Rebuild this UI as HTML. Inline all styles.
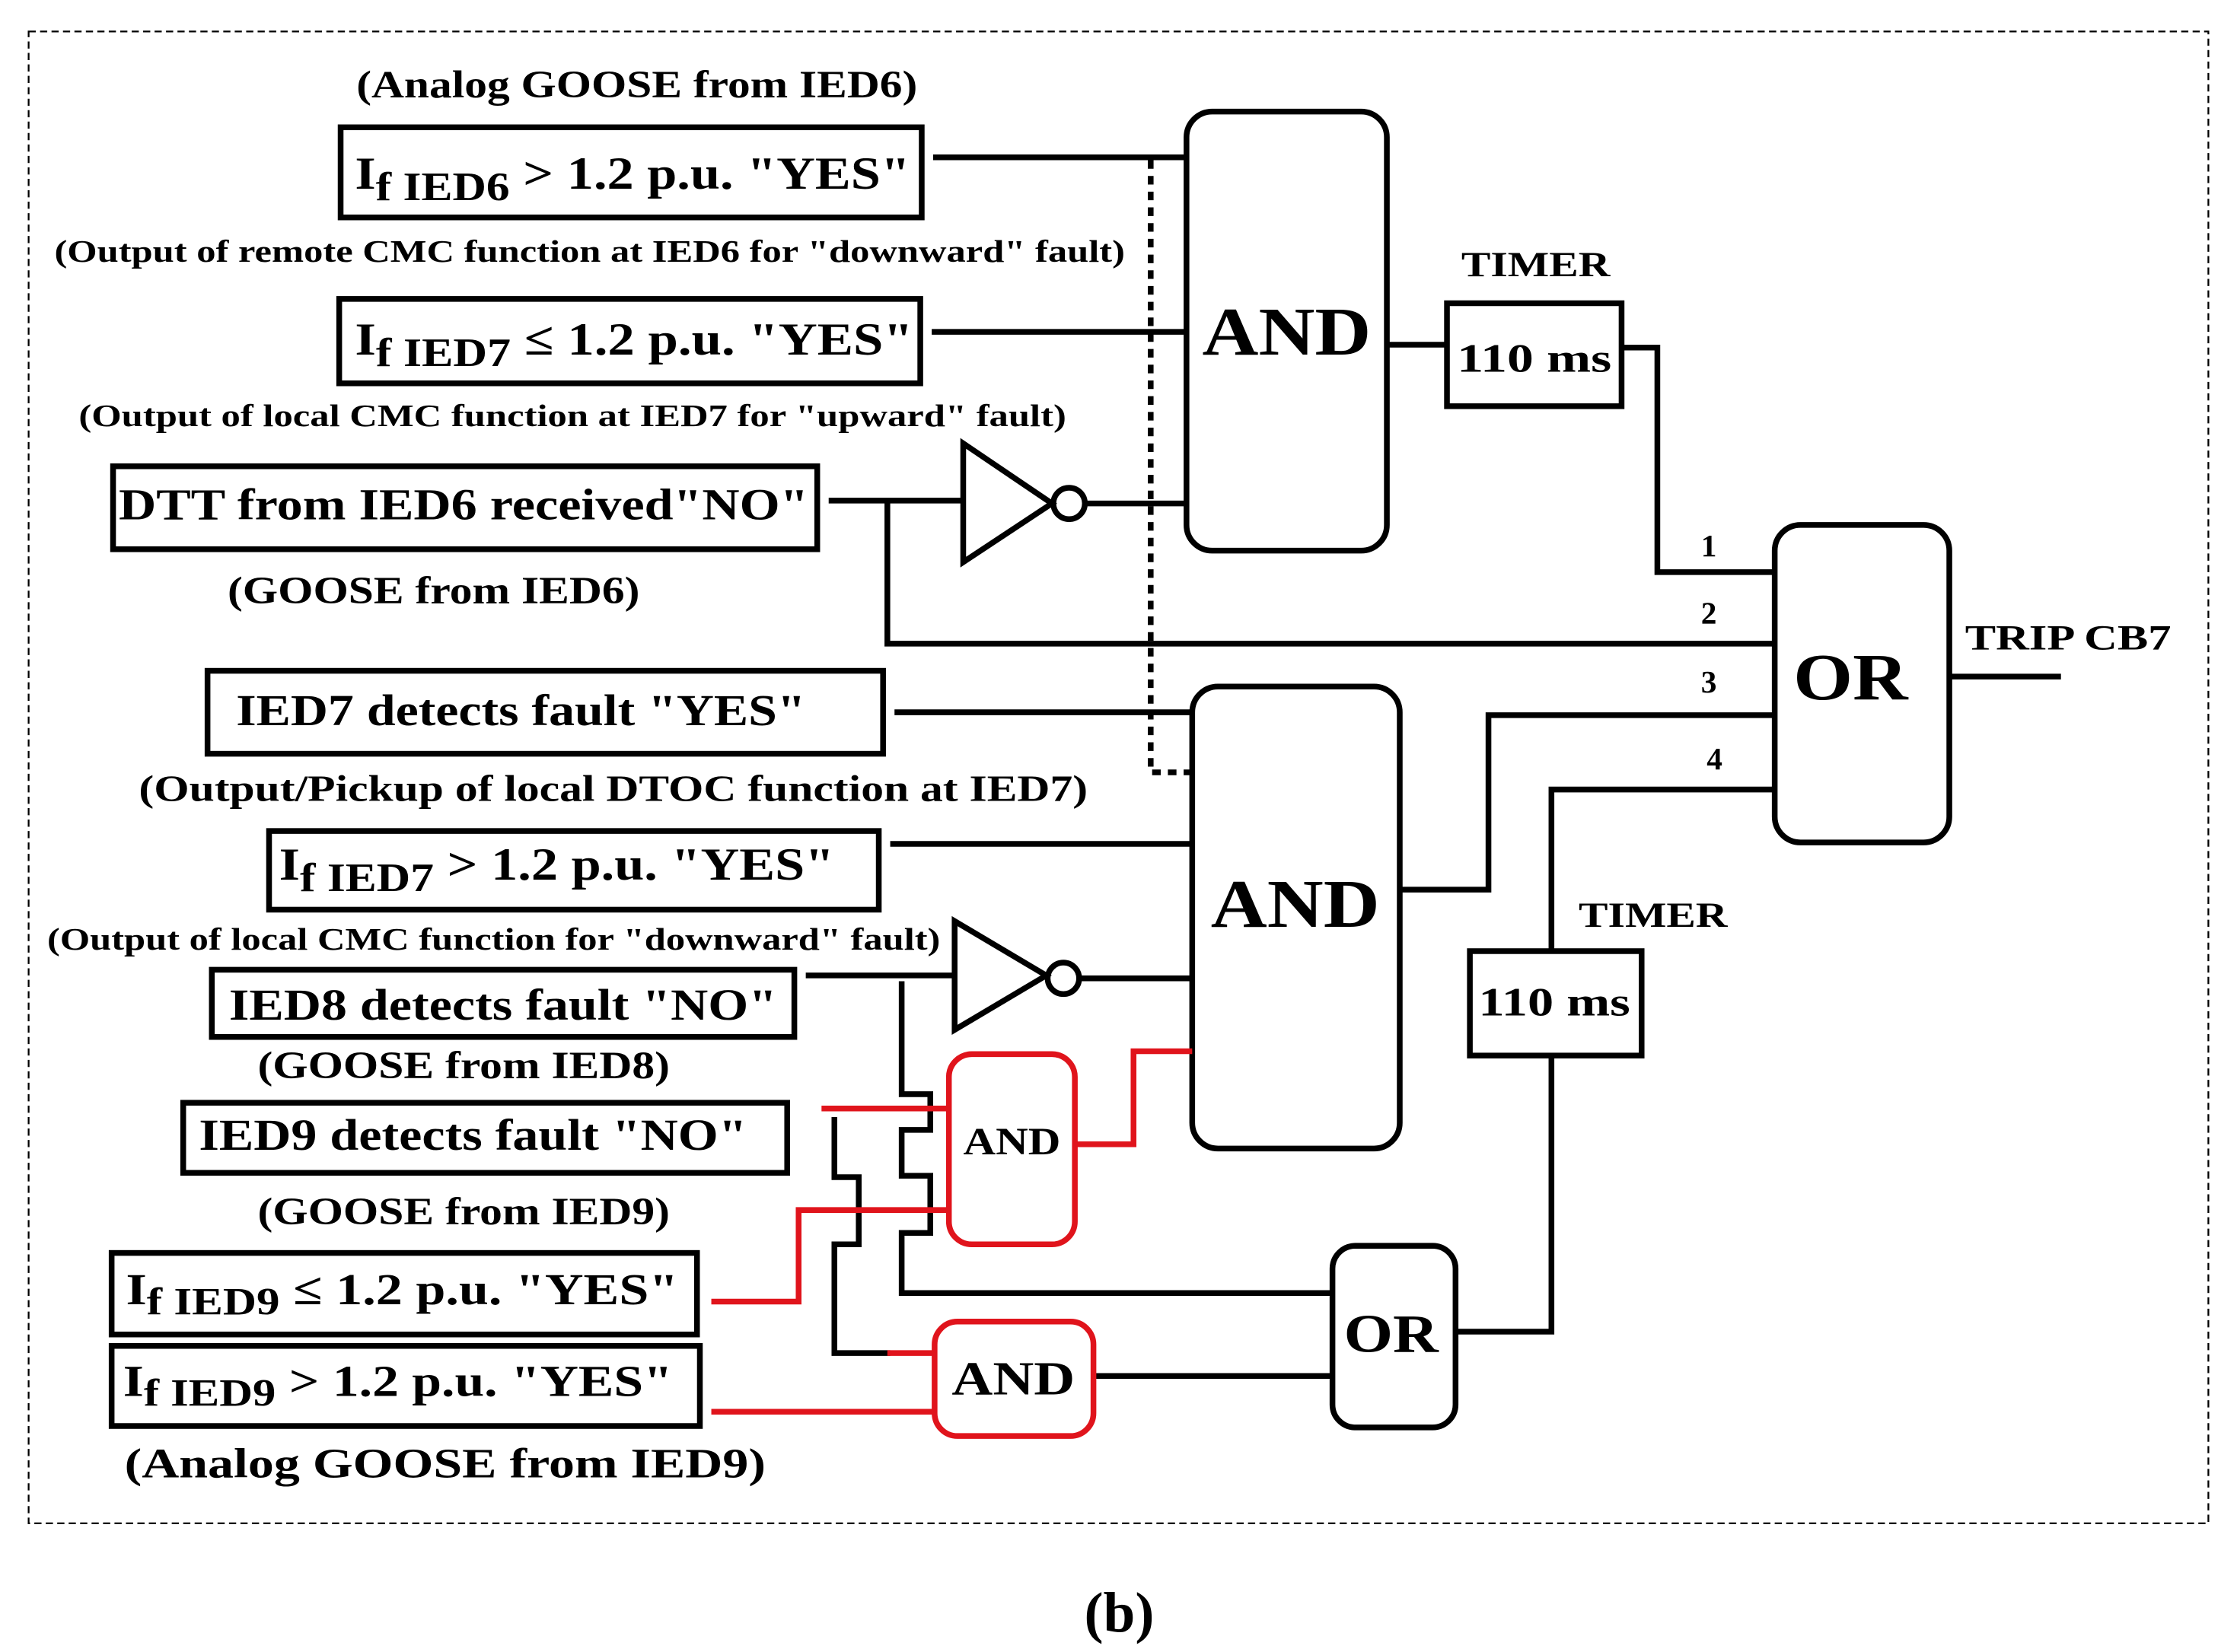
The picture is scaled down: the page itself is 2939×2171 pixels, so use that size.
<!DOCTYPE html>
<html><head><meta charset="utf-8"><style>
html,body{margin:0;padding:0;background:#fff;}
svg{display:block;}
text{font-family:"Liberation Serif",serif;font-weight:bold;fill:#000;}
</style></head><body>
<svg width="2939" height="2171" viewBox="0 0 1563 1155" preserveAspectRatio="none" xmlns="http://www.w3.org/2000/svg">
<rect x="20" y="22" width="1523" height="1043" fill="none" stroke="#000" stroke-width="1.2" stroke-dasharray="5,3"/>
<g fill="none" stroke="#000" stroke-width="4">
<rect x="238" y="89" width="406" height="63"/>
<rect x="237" y="209" width="406" height="59"/>
<rect x="79" y="326" width="492" height="58"/>
<rect x="145" y="469" width="472" height="58"/>
<rect x="188" y="581" width="426" height="55"/>
<rect x="148" y="678" width="407" height="47"/>
<rect x="128" y="771" width="422" height="49"/>
<rect x="78" y="876" width="409" height="57"/>
<rect x="78" y="941" width="411" height="56"/>
<rect x="829" y="78" width="140" height="307" rx="18"/>
<rect x="1011" y="212" width="122" height="72"/>
<rect x="1240" y="367" width="122" height="222" rx="18"/>
<rect x="833" y="480" width="145" height="323" rx="18"/>
<rect x="1027" y="665" width="120" height="73"/>
<rect x="931" y="871" width="86" height="127" rx="16"/>
<polygon points="673,310 673,393 735,352"/>
<circle cx="747" cy="352" r="11"/>
<polygon points="667,644 667,720 731,682"/>
<circle cx="743" cy="684" r="11"/>
<path d="M652 110H829 M651 232H829 M579 350H673 M758 352H829 M620 350V450H1240 M969 241H1011 M1133 243H1158V400H1240 M625 498H833 M622 590H833 M563 682H667 M754 684H833 M978 622H1040V500H1240 M1084 665V552H1240 M1084 738V931H1017 M1362 473H1440 M764 962H931"/>
<path d="M630 686V765H650V790H630V822H650V862H630V904H931"/>
<path d="M583 781V823H600V870H583V946H622"/>
<path d="M804 112V540H833" stroke-dasharray="6,5"/>
</g>
<g fill="none" stroke="#e0141c" stroke-width="4">
<rect x="663" y="737" width="88" height="133" rx="16"/>
<rect x="653" y="924" width="111" height="80" rx="16"/>
<path d="M574 775H663 M497 910H558V846H663 M751 800H792V735H833 M497 987H653 M620 946H653"/>
</g>
<text x="445" y="68" font-size="27" text-anchor="middle" textLength="392" lengthAdjust="spacingAndGlyphs">(Analog GOOSE from IED6)</text>
<text x="248" y="132" font-size="32" textLength="388" lengthAdjust="spacingAndGlyphs">I<tspan font-size="28" dy="8">f IED6</tspan><tspan dy="-8"> &gt; 1.2 p.u. "YES"</tspan></text>
<text x="38" y="183" font-size="22" textLength="748" lengthAdjust="spacingAndGlyphs">(Output of remote CMC function at IED6 for "downward" fault)</text>
<text x="248" y="248" font-size="32" textLength="390" lengthAdjust="spacingAndGlyphs">I<tspan font-size="28" dy="8">f IED7</tspan><tspan dy="-8"> ≤ 1.2 p.u. "YES"</tspan></text>
<text x="55" y="298" font-size="22" textLength="690" lengthAdjust="spacingAndGlyphs">(Output of local CMC function at IED7 for "upward" fault)</text>
<text x="83" y="363" font-size="31" textLength="482" lengthAdjust="spacingAndGlyphs">DTT from IED6 received"NO"</text>
<text x="303" y="422" font-size="27" text-anchor="middle" textLength="288" lengthAdjust="spacingAndGlyphs">(GOOSE from IED6)</text>
<text x="165" y="507" font-size="31" textLength="398" lengthAdjust="spacingAndGlyphs">IED7 detects fault "YES"</text>
<text x="97" y="560" font-size="26" textLength="663" lengthAdjust="spacingAndGlyphs">(Output/Pickup of local DTOC function at IED7)</text>
<text x="195" y="615" font-size="32" textLength="388" lengthAdjust="spacingAndGlyphs">I<tspan font-size="28" dy="8">f IED7</tspan><tspan dy="-8"> &gt; 1.2 p.u. "YES"</tspan></text>
<text x="33" y="664" font-size="22" textLength="624" lengthAdjust="spacingAndGlyphs">(Output of local CMC function for "downward" fault)</text>
<text x="160" y="713" font-size="31" textLength="383" lengthAdjust="spacingAndGlyphs">IED8 detects fault "NO"</text>
<text x="324" y="754" font-size="27" text-anchor="middle" textLength="288" lengthAdjust="spacingAndGlyphs">(GOOSE from IED8)</text>
<text x="139" y="804" font-size="31" textLength="383" lengthAdjust="spacingAndGlyphs">IED9 detects fault "NO"</text>
<text x="324" y="856" font-size="27" text-anchor="middle" textLength="288" lengthAdjust="spacingAndGlyphs">(GOOSE from IED9)</text>
<text x="88" y="912" font-size="31" textLength="386" lengthAdjust="spacingAndGlyphs">I<tspan font-size="27" dy="7">f IED9</tspan><tspan dy="-7"> ≤ 1.2 p.u. "YES"</tspan></text>
<text x="86" y="976" font-size="31" textLength="384" lengthAdjust="spacingAndGlyphs">I<tspan font-size="27" dy="7">f IED9</tspan><tspan dy="-7"> &gt; 1.2 p.u. "YES"</tspan></text>
<text x="311" y="1033" font-size="29" text-anchor="middle" textLength="448" lengthAdjust="spacingAndGlyphs">(Analog GOOSE from IED9)</text>
<text x="899" y="248" font-size="48" text-anchor="middle" textLength="118" lengthAdjust="spacingAndGlyphs">AND</text>
<text x="905" y="648" font-size="48" text-anchor="middle" textLength="118" lengthAdjust="spacingAndGlyphs">AND</text>
<text x="1293" y="489" font-size="46" text-anchor="middle" textLength="80" lengthAdjust="spacingAndGlyphs">OR</text>
<text x="972" y="945" font-size="38" text-anchor="middle" textLength="66" lengthAdjust="spacingAndGlyphs">OR</text>
<text x="707" y="807" font-size="27" text-anchor="middle" textLength="68" lengthAdjust="spacingAndGlyphs">AND</text>
<text x="708" y="975" font-size="33" text-anchor="middle" textLength="86" lengthAdjust="spacingAndGlyphs">AND</text>
<text x="1073" y="193" font-size="25" text-anchor="middle" textLength="104" lengthAdjust="spacingAndGlyphs">TIMER</text>
<text x="1072" y="260" font-size="28" text-anchor="middle" textLength="108" lengthAdjust="spacingAndGlyphs">110 ms</text>
<text x="1155" y="648" font-size="25" text-anchor="middle" textLength="104" lengthAdjust="spacingAndGlyphs">TIMER</text>
<text x="1086" y="710" font-size="28" text-anchor="middle" textLength="106" lengthAdjust="spacingAndGlyphs">110 ms</text>
<text x="1445" y="454" font-size="25" text-anchor="middle" textLength="144" lengthAdjust="spacingAndGlyphs">TRIP CB7</text>
<text x="1194" y="389" font-size="22" text-anchor="middle">1</text>
<text x="1194" y="436" font-size="22" text-anchor="middle">2</text>
<text x="1194" y="484" font-size="22" text-anchor="middle">3</text>
<text x="1198" y="538" font-size="22" text-anchor="middle">4</text>
<text x="782" y="1141" font-size="40" text-anchor="middle">(b)</text>
</svg>
</body></html>
